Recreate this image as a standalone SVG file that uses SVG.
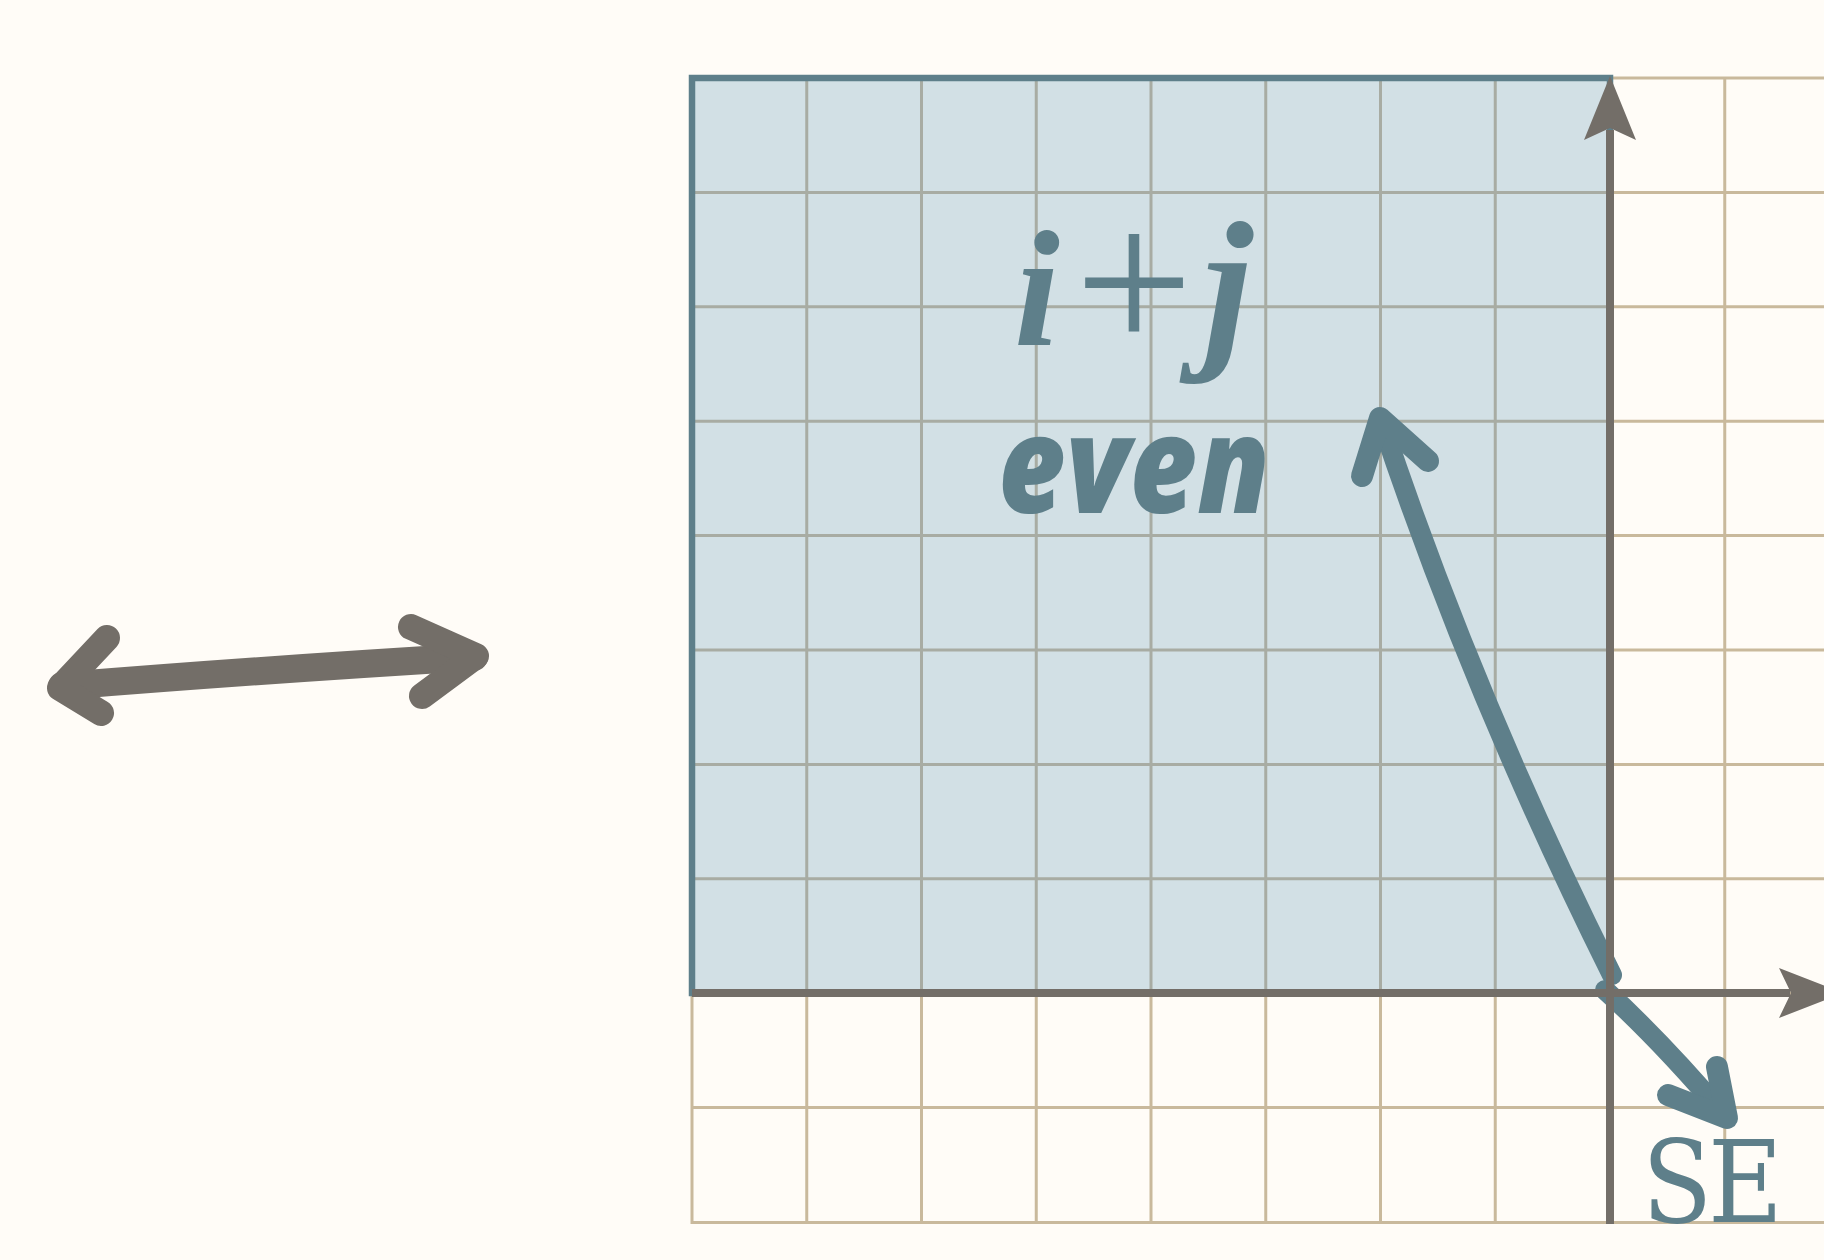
<svg xmlns="http://www.w3.org/2000/svg" width="1824" height="1260" viewBox="0 0 1824 1260">
  <style>
    .bg { fill: #fffcf7; }
    .beige { stroke: #c9b99c; stroke-width: 3; fill: none; }
    .inner { stroke: #a8aca3; stroke-width: 3; fill: none; }
    .axis { stroke: #736e68; stroke-width: 8; fill: none; }
    .axhead { fill: #736e68; }
    .blue { stroke: #5e7f8a; fill: none; stroke-linecap: round; stroke-linejoin: round; }
    .grey { stroke: #736e68; fill: none; stroke-linecap: round; stroke-linejoin: round; }
    .lbl { fill: #5e7f8a; }
  </style>
  <rect class="bg" x="0" y="0" width="1824" height="1260"/>

  <g id="outer-grid" class="beige">
    <path d="M692,78 V1224 M806.75,78 V1224 M921.5,78 V1224 M1036.25,78 V1224 M1151,78 V1224 M1265.75,78 V1224 M1380.5,78 V1224 M1495.25,78 V1224 M1610,78 V1224 M1724.75,78 V1224"/>
    <path d="M692,78 H1824 M692,192.4 H1824 M692,306.8 H1824 M692,421.2 H1824 M692,535.6 H1824 M692,650 H1824 M692,764.4 H1824 M692,878.8 H1824 M692,993.2 H1824 M692,1107.6 H1824 M692,1222.5 H1824"/>
  </g>

  <g id="even-region">
    <rect x="692" y="78" width="918" height="915" fill="#d2e0e5"/>
    <g class="inner">
      <path d="M806.75,81 V990 M921.5,81 V990 M1036.25,81 V990 M1151,81 V990 M1265.75,81 V990 M1380.5,81 V990 M1495.25,81 V990"/>
      <path d="M695,192.4 H1607 M695,306.8 H1607 M695,421.2 H1607 M695,535.6 H1607 M695,650 H1607 M695,764.4 H1607 M695,878.8 H1607"/>
    </g>
    <rect x="692" y="78" width="918" height="915" fill="none" stroke="#5e7f8a" stroke-width="6.5"/>
    <text id="label-ij" class="lbl" y="345" font-family="'Liberation Serif', serif" font-weight="700" font-style="italic" font-size="165" text-anchor="middle"><tspan x="1037">i</tspan><tspan x="1134" y="353" font-weight="400" font-style="normal" font-size="210">+</tspan><tspan x="1228" y="346" font-size="180">j</tspan></text>
    <text id="label-even" class="lbl" x="998" y="513" font-family="'Open Sans', sans-serif" font-weight="800" font-style="italic" font-size="134" textLength="272" lengthAdjust="spacingAndGlyphs">even</text>
  </g>

  <g id="connectors">
    <g id="arrow-diag" class="blue">
      <path d="M1612,975 Q1472,694 1381,420" stroke-width="20"/>
      <path d="M1362,476 L1380,418 L1428,461" stroke-width="22"/>
    </g>
    <g id="arrow-se" class="blue">
      <path d="M1605,990 Q1662,1042 1725,1116" stroke-width="20"/>
      <path d="M1668,1095 L1727,1118 L1717,1067" stroke-width="22"/>
    </g>
    <g id="arrow-double" class="grey">
      <path d="M62,686 Q260,670 474,657" stroke-width="28"/>
      <path d="M107,638 L60,688 L101,713" stroke-width="26"/>
      <path d="M411,627 L476,656 L422,696" stroke-width="26"/>
    </g>
  </g>

  <g id="axes">
    <path class="axis" d="M1610,1224 V130"/>
    <polygon class="axhead" points="1610,76 1636,140 1610,128 1584,140"/>
    <path class="axis" d="M692,993 H1790"/>
    <polygon class="axhead" points="1843,993 1779,968 1791,993 1779,1018"/>
  </g>

  <text id="label-se" class="lbl" y="1222" font-family="'DejaVu Serif', serif" font-stretch="condensed" font-size="114"><tspan x="1642">S</tspan><tspan x="1708">E</tspan></text>
</svg>
